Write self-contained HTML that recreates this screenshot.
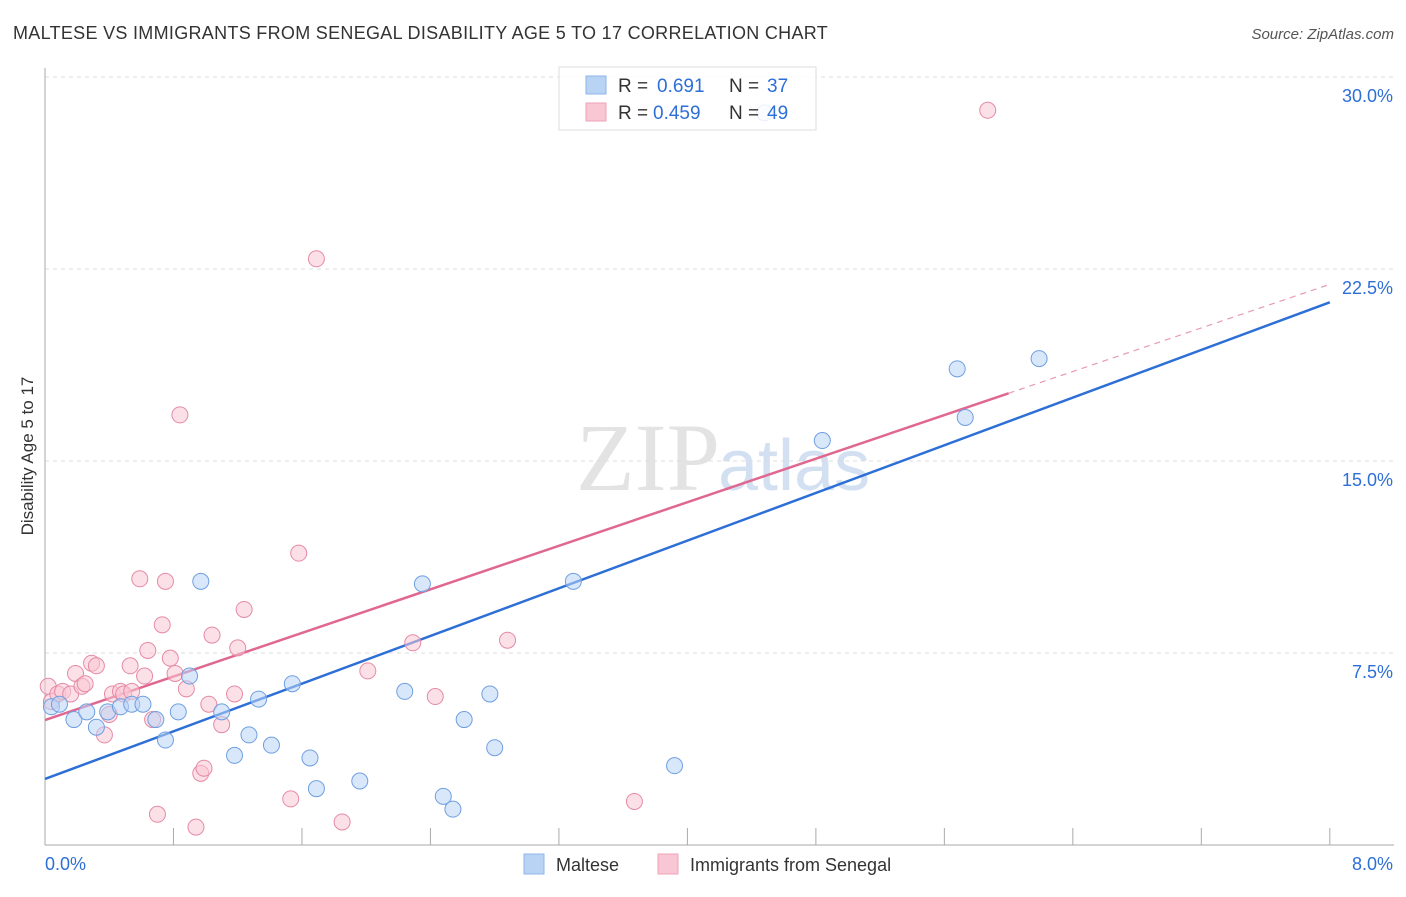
<!DOCTYPE html>
<html><head><meta charset="utf-8"><style>
body{margin:0;background:#fff;font-family:"Liberation Sans",sans-serif;}
</style></head><body>
<svg id="chart" width="1406" height="892" xmlns="http://www.w3.org/2000/svg" font-family="Liberation Sans, sans-serif">
<text x="13" y="39" font-size="18" fill="#333" letter-spacing="0.3">MALTESE VS IMMIGRANTS FROM SENEGAL DISABILITY AGE 5 TO 17 CORRELATION CHART</text>
<text x="1394" y="39" font-size="15" fill="#555" text-anchor="end" font-style="italic">Source: ZipAtlas.com</text>
<text x="720" y="490" font-size="96" fill="#ddd" text-anchor="end" font-family="Liberation Serif, serif" opacity="0.8">ZIP</text>
<text x="718" y="490" font-size="72" fill="#c9d9f0" opacity="0.8">atlas</text>
<text transform="translate(33,456) rotate(-90)" font-size="17" fill="#333" text-anchor="middle">Disability Age 5 to 17</text>
<g id="grid"></g><g id="axes"></g><g id="lines"></g><g id="pts"></g>
<g>
<rect x="559" y="67" width="257" height="63" fill="#fff" fill-opacity="0.85" stroke="#ddd"/>
<rect x="586" y="76" width="20" height="18" fill="#b9d3f5" stroke="#8fb4e8"/>
<rect x="586" y="103" width="20" height="18" fill="#f9c6d4" stroke="#eea3b9"/>
<text x="618" y="92" font-size="19" fill="#333">R =</text>
<text x="657" y="92" font-size="19" fill="#2d6fd6">0.691</text>
<text x="729" y="92" font-size="19" fill="#333">N =</text>
<text x="767" y="92" font-size="19" fill="#2d6fd6">37</text>
<text x="618" y="119" font-size="19" fill="#333">R =</text>
<text x="653" y="119" font-size="19" fill="#2d6fd6">0.459</text>
<text x="729" y="119" font-size="19" fill="#333">N =</text>
<text x="767" y="119" font-size="19" fill="#2d6fd6">49</text>
</g>
<g>
<rect x="524" y="854" width="20" height="20" fill="#b9d3f5" stroke="#8fb4e8"/>
<text x="556" y="871" font-size="18" fill="#333">Maltese</text>
<rect x="658" y="854" width="20" height="20" fill="#f9c6d4" stroke="#eea3b9"/>
<text x="690" y="871" font-size="18" fill="#333">Immigrants from Senegal</text>
</g>
</svg>
<script>
const yTicks=[7.5,15,22.5,30];
const yTickLabels=["7.5%","15.0%","22.5%","30.0%"];
const xTicks=[0,0.8,1.6,2.4,3.2,4,4.8,5.6,6.4,7.2,8];
const malteseX=[0.04,0.09,0.18,0.26,0.32,0.39,0.47,0.54,0.61,0.69,0.75,0.83,0.90,0.97,1.10,1.18,1.27,1.33,1.41,1.54,1.65,1.69,1.96,2.24,2.35,2.48,2.54,2.61,2.77,2.80,3.29,3.92,4.84,5.68,5.73,6.19,4.48];
const malteseY=[5.4,5.5,4.9,5.2,4.6,5.2,5.4,5.5,5.5,4.9,4.1,5.2,6.6,10.3,5.2,3.5,4.3,5.7,3.9,6.3,3.4,2.2,2.5,6.0,10.2,1.9,1.4,4.9,5.9,3.8,10.3,3.1,15.8,18.6,16.7,19.0,28.6];
const senegalX=[0.02,0.04,0.08,0.11,0.16,0.19,0.23,0.25,0.29,0.32,0.37,0.40,0.42,0.47,0.49,0.53,0.54,0.59,0.62,0.64,0.67,0.70,0.73,0.75,0.78,0.81,0.84,0.88,0.94,0.97,0.99,1.02,1.04,1.10,1.18,1.20,1.24,1.53,1.58,1.69,1.85,2.01,2.29,2.43,2.88,3.67,5.87];
const senegalY=[6.2,5.6,5.9,6.0,5.9,6.7,6.2,6.3,7.1,7.0,4.3,5.1,5.9,6.0,5.9,7.0,6.0,10.4,6.6,7.6,4.9,1.2,8.6,10.3,7.3,6.7,16.8,6.1,0.7,2.8,3.0,5.5,8.2,4.7,5.9,7.7,9.2,1.8,11.4,22.9,0.9,6.8,7.9,5.8,8.0,1.7,28.7];
const blueLine=[2.58,21.2], pinkLine=[4.88,21.9], pinkSolidEnd=6.0;
const X=v=>45+v*160.6, Y=v=>845-v*25.6;
const NS="http://www.w3.org/2000/svg";
function mk(tag,attrs,parent){const e=document.createElementNS(NS,tag);for(const k in attrs)e.setAttribute(k,attrs[k]);document.getElementById(parent).appendChild(e);return e;}
yTicks.forEach((t,i)=>{
 const g=mk('line',{x1:45,x2:1394,y1:Y(t),y2:Y(t),stroke:'#ddd','stroke-dasharray':'4,4'},'grid');
 
 
 const l=mk('text',{x:1393,y:Y(t)+25,'font-size':18,fill:'#2d6fd6','text-anchor':'end'},'grid');
 l.textContent=yTickLabels[i];
 
 
});
const ax=mk('line',{x1:45,x2:1394,y1:845,y2:845,stroke:'#aaa'},'axes');


const ay=mk('line',{x1:45,x2:45,y1:68,y2:845,stroke:'#aaa'},'axes');


xTicks.forEach(t=>{const e=mk('line',{x1:X(t),x2:X(t),y1:828,y2:845,stroke:'#aaa'},'axes');
 
 });
[["0.0%",45,"start"],["8.0%",1393,"end"]].forEach(a=>{const e=mk('text',{x:a[1],y:870,'font-size':18,fill:'#2d6fd6','text-anchor':a[2]},'axes');e.textContent=a[0];
 
 });
function pts(xs,ys,fill,stroke,name){xs.forEach((x,i)=>{const c=mk('circle',{cx:X(x),cy:Y(ys[i]),r:8,fill:fill,'fill-opacity':0.55,stroke:stroke,'stroke-width':1},'pts');
 
 });}
pts(senegalX,senegalY,'#f9c6d4','#e58aa6','senegal-point');
pts(malteseX,malteseY,'#b9d3f5','#6f9fe0','maltese-point');
const pl=v=>pinkLine[0]+(pinkLine[1]-pinkLine[0])*v/8;
const b=mk('line',{x1:X(0),y1:Y(blueLine[0]),x2:X(8),y2:Y(blueLine[1]),stroke:'#2d6fd6','stroke-width':2.5},'lines');


const p=mk('line',{x1:X(0),y1:Y(pl(0)),x2:X(pinkSolidEnd),y2:Y(pl(pinkSolidEnd)),stroke:'#e06890','stroke-width':2.5},'lines');


const pd=mk('line',{x1:X(pinkSolidEnd),y1:Y(pl(pinkSolidEnd)),x2:X(8),y2:Y(pl(8)),stroke:'#e89ab2','stroke-width':1.2,'stroke-dasharray':'6,5'},'lines');


</script>
</body></html>
